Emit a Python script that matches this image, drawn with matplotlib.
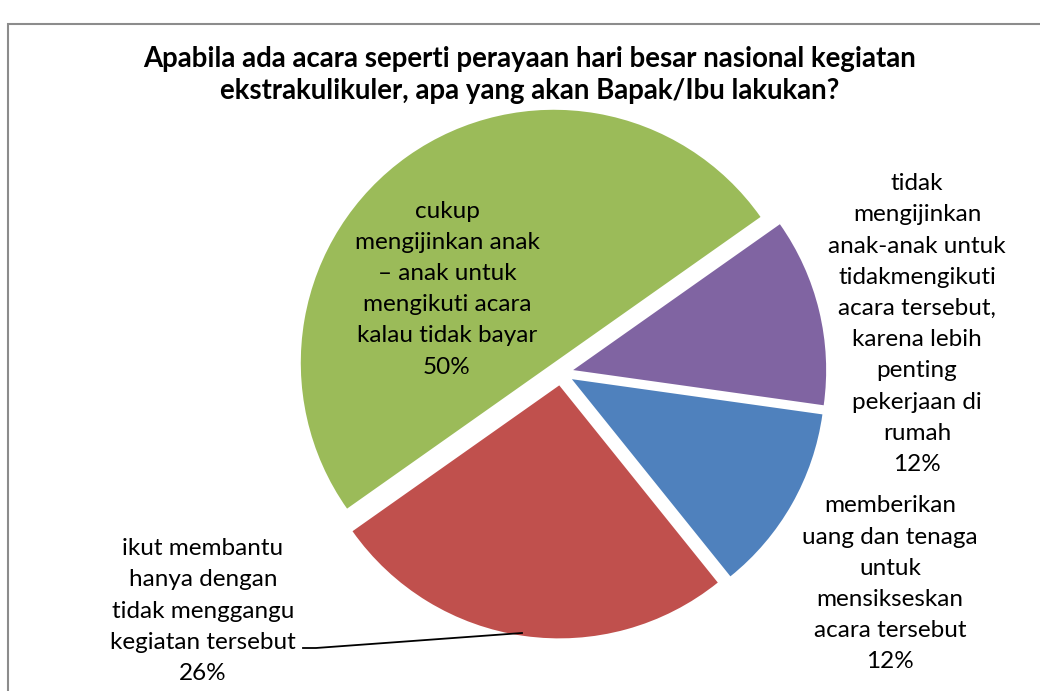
import matplotlib.pyplot as plt
from matplotlib.patches import Rectangle

# data (clockwise from the blue slice)
labels = [
    "memberikan\nuang dan tenaga\nuntuk\nmensikseskan\nacara tersebut",
    "ikut membantu\nhanya dengan\ntidak menggangu\nkegiatan tersebut",
    "cukup\nmengijinkan anak\n\u2013 anak untuk\nmengikuti acara\nkalau tidak bayar",
    "tidak\nmengijinkan\nanak-anak untuk\ntidakmengikuti\nacara tersebut,\nkarena lebih\npenting\npekerjaan di\nrumah",
]
values = [12, 26, 50, 12]
colors = ["#4F81BD", "#C0504D", "#9BBB59", "#8064A2"]
title = "Apabila ada acara seperti perayaan hari besar nasional kegiatan\nekstrakulikuler, apa yang akan Bapak/Ibu lakukan?"

plt.rcParams['font.family'] = ['Lato', 'DejaVu Sans']

W, H = 1040, 691
fig = plt.figure(figsize=(W / 100, H / 100), dpi=100)
ax = fig.add_axes([0, 0, 1, 1])

# pie in pixel units (y measured from the bottom); explode is in pixels too
ax.pie(values, colors=colors, startangle=-8, counterclock=False,
       radius=253, center=(561, H - 373), explode=[12.5] * 4,
       wedgeprops=dict(linewidth=0))
ax.set_xlim(0, W)
ax.set_ylim(0, H)
ax.axis('off')

# chart border
ax.add_patch(Rectangle((8, -20), 1100, H - 24 + 20, fill=False,
                       edgecolor='#8c8c8c', linewidth=1.5, clip_on=False))

ax.text(530, H - 75, title, ha='center', va='center', fontsize=19.9,
        fontweight='bold', linespacing=1.27)

# data labels: (x, y of block centre in image pixels)
label_pos = [(890, 584), (203, 611), (447, 289), (917, 324)]
for lab, v, (x, y) in zip(labels, values, label_pos):
    ax.text(x, H - y, f"{lab}\n{v}%", ha='center', va='center',
            fontsize=17.5, linespacing=1.6)

# leader line for the red slice
ax.plot([303, 316, 522], [H - 648, H - 648, H - 633], color='black', lw=1.3)

fig.savefig("out.png", dpi=100)
